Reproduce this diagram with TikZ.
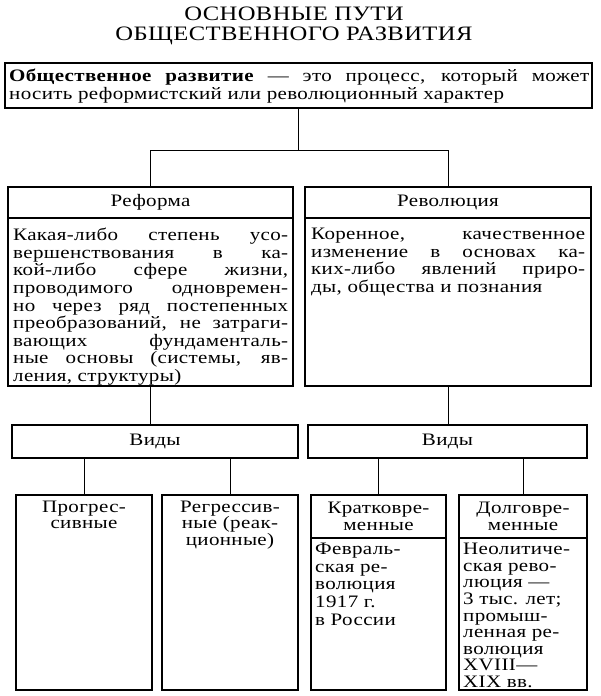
\documentclass[tikz,border=0pt]{standalone}
\usepackage{fontspec}
\setmainfont{Liberation Serif}[FakeStretch=1.2,LetterSpace=2]
\usetikzlibrary{calc}
\tikzset{
  box/.style={draw=black,line width=1.2pt,inner sep=0pt},
  link/.style={draw=black,line width=0.9pt},
  txt/.style={inner sep=0pt,font=\fontsize{17.5}{17.6}\selectfont,align=left},
  ctxt/.style={inner sep=0pt,font=\fontsize{17.5}{16.8}\selectfont,align=center},
  ttl/.style={inner sep=0pt,font=\fontsize{20.5}{20}\selectfont}
}
\newcommand\JL[2]{\makebox[#1][s]{#2}}
\begin{document}
\begin{tikzpicture}[x=1pt,y=-1pt]
\useasboundingbox (0,0) rectangle (600,696);
% title
\node[ttl,anchor=base] (t1) at (294,20) {ОСНОВНЫЕ ПУТИ};
\node[ttl,anchor=base] (t2) at (294,40) {ОБЩЕСТВЕННОГО РАЗВИТИЯ};
% top box
\node[box,minimum width=587pt,minimum height=45pt] (top) at (298.5,85.5) {};
\node[txt,anchor=north west] (toptx) at (9,69) {\JL{580pt}{\textbf{Общественное развитие} — это процесс, который может}\\
носить реформистский или революционный характер};
% reform
\node[box,minimum width=285pt,minimum height=31pt] (refH) at (150.5,202.5) {};
\node[box,minimum width=285pt,minimum height=168pt] (refB) at (150.5,302) {};
\node[ctxt] (refHt) at (refH.center) {Реформа};
\node[txt,anchor=north west] (refBt) at (13,228) {\JL{275pt}{Какая-либо степень усо-}\\
\JL{275pt}{вершенствования в ка-}\\
\JL{275pt}{кой-либо сфере жизни,}\\
\JL{275pt}{проводимого одновремен-}\\
\JL{275pt}{но через ряд постепенных}\\
\JL{275pt}{преобразований, не затраги-}\\
\JL{275pt}{вающих фундаменталь-}\\
\JL{275pt}{ные основы (системы, яв-}\\
ления, структуры)};
% revolution
\node[box,minimum width=286pt,minimum height=31pt] (revH) at (448,202.5) {};
\node[box,minimum width=286pt,minimum height=168pt] (revB) at (448,302) {};
\node[ctxt] (revHt) at (revH.center) {Революция};
\node[txt,anchor=north west] (revBt) at (311,228) {\JL{274pt}{Коренное, качественное}\\
\JL{274pt}{изменение в основах ка-}\\
\JL{274pt}{ких-либо явлений приро-}\\
ды, общества и познания};
% vidy
\node[box,minimum width=286pt,minimum height=33pt] (vidL) at (155,441.5) {};
\node[box,minimum width=279pt,minimum height=33pt] (vidR) at (447.5,441.5) {};
\node[ctxt] (vidLt) at (vidL.center) {Виды};
\node[ctxt] (vidRt) at (vidR.center) {Виды};
% bottom boxes
\node[box,minimum width=136pt,minimum height=195pt] (b1) at (84,592.5) {};
\node[box,minimum width=136pt,minimum height=195pt] (b2) at (230,592.5) {};
\node[box,minimum width=135pt,minimum height=43pt] (b3H) at (378.5,516.5) {};
\node[box,minimum width=135pt,minimum height=152pt] (b3B) at (378.5,614) {};
\node[box,minimum width=128pt,minimum height=43pt] (b4H) at (523,516.5) {};
\node[box,minimum width=128pt,minimum height=152pt] (b4B) at (523,614) {};
\node[ctxt,anchor=north] (b1t) at ($(b1.north)+(0,6)$) {Прогрес-\\сивные};
\node[ctxt,anchor=north] (b2t) at ($(b2.north)+(0,6)$) {Регрессив-\\ные (реак-\\ционные)};
\node[ctxt] (b3Ht) at (b3H.center) {Кратковре-\\менные};
\node[ctxt] (b4Ht) at (b4H.center) {Долговре-\\менные};
\node[txt,anchor=north west] (b3Bt) at (315,543) {Февраль-\\ская ре-\\волюция\\1917 г.\\в России};
\node[txt,anchor=north west,font=\fontsize{17.5}{16.6}\selectfont] (b4Bt) at (463,543) {Неолитиче-\\ская рево-\\люция —\\3 тыс. лет;\\промыш-\\ленная ре-\\волюция\\XVIII—\\XIX вв.};
% connectors
\coordinate (jl) at (150.5,150);
\coordinate (jr) at (448,150);
\draw[link] (top.south) -- (top.south |- jl);
\draw[link] (refH.north) |- (jr) -- (revH.north);
\draw[link] (refB.south) -- (refB.south |- vidL.north);
\draw[link] (revB.south) -- (revB.south |- vidR.north);
\draw[link] (b1.north) -- (b1.north |- vidL.south);
\draw[link] (b2.north) -- (b2.north |- vidL.south);
\draw[link] (b3H.north) -- (b3H.north |- vidR.south);
\draw[link] (b4H.north) -- (b4H.north |- vidR.south);
\end{tikzpicture}
\end{document}
